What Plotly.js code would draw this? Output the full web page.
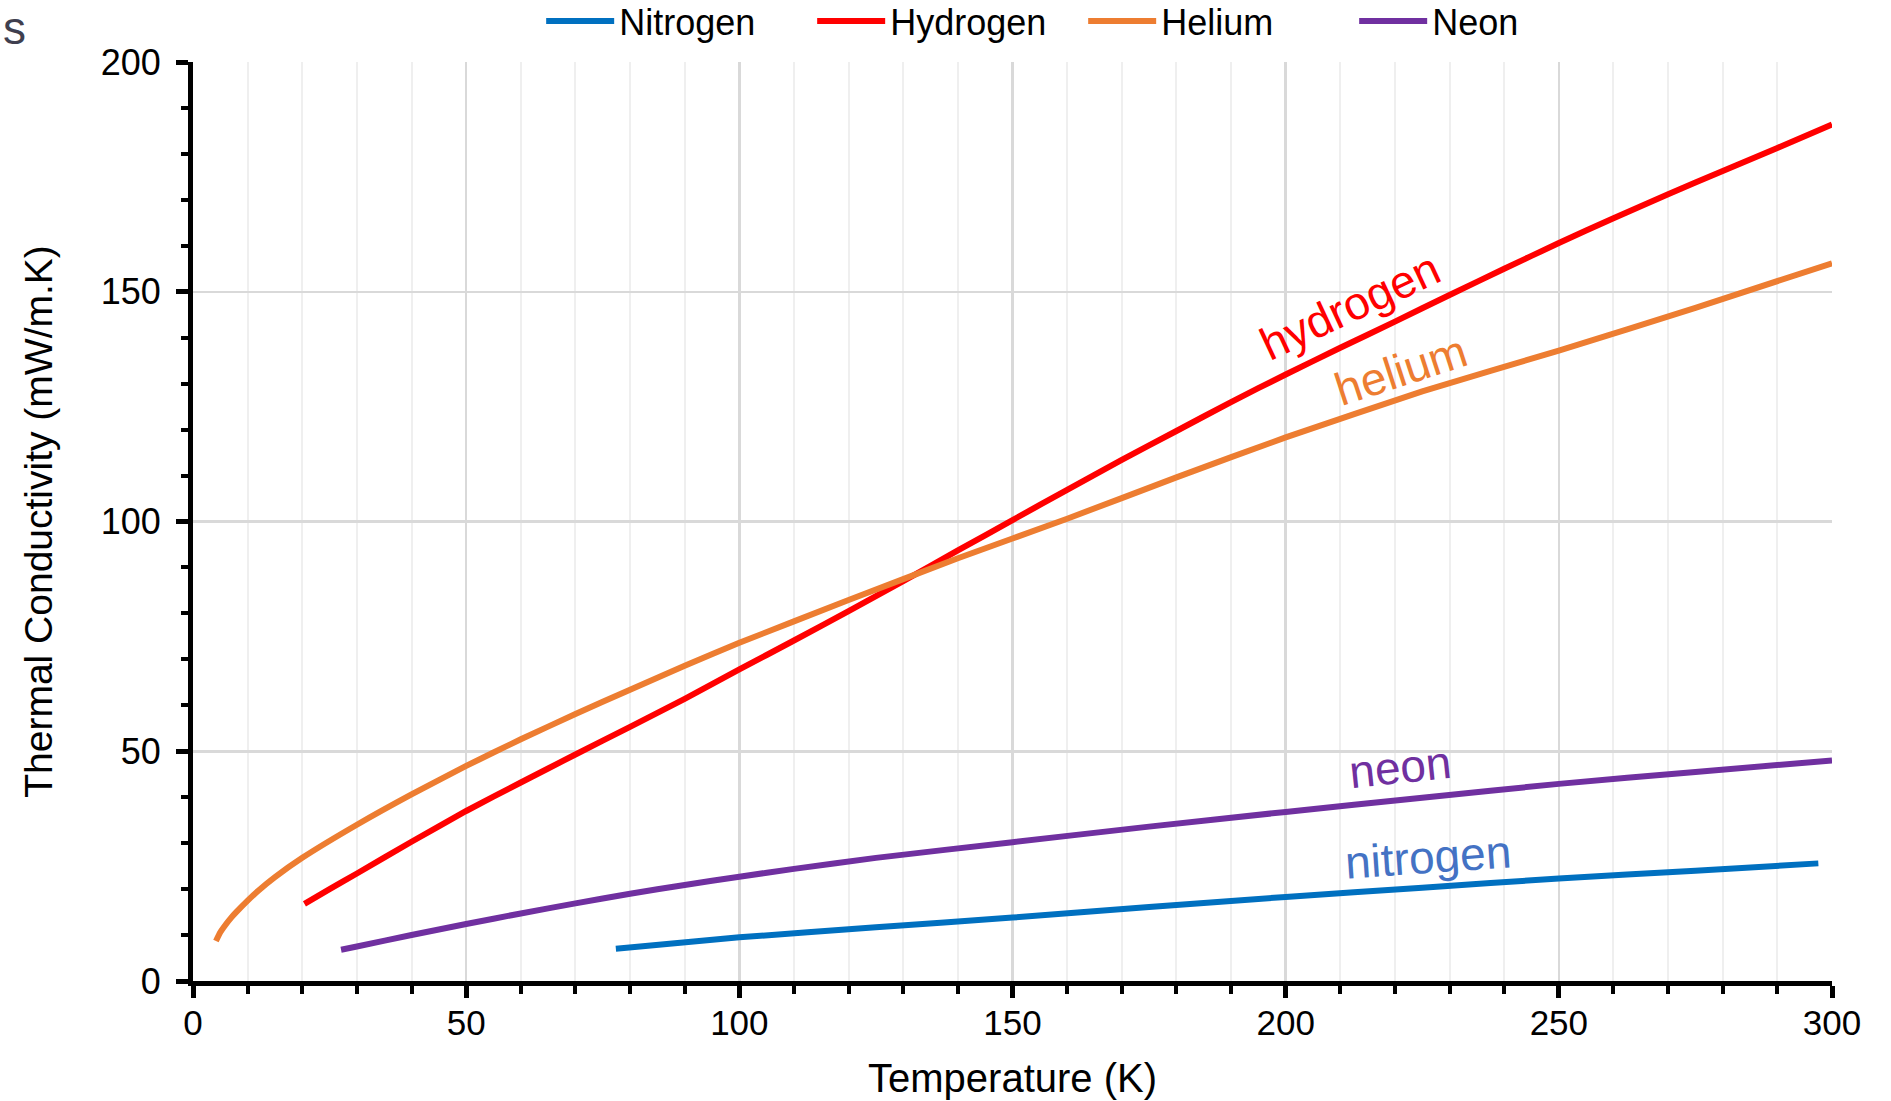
<!DOCTYPE html>
<html>
<head>
<meta charset="utf-8">
<script src="https://cdn.plot.ly/plotly-3.0.1.min.js"></script>
<style>
  html, body { margin: 0; padding: 0; background: #ffffff; }
  #chart { width: 1891px; height: 1101px; }
</style>
</head>
<body>
<div id="chart"></div>
<script>
// ---- Data ----
const seriesNames = ["Nitrogen", "Hydrogen", "Helium", "Neon"];
const seriesColors = ["#0070C0", "#FF0000", "#ED7D31", "#7030A0"];

const nitrogenT = [77.4, 100, 125, 150, 175, 200, 225, 250, 275, 297.5];
const nitrogenK = [7.0, 9.5, 11.7, 13.8, 16.1, 18.3, 20.3, 22.3, 24.0, 25.6];

const hydrogenT = [20.4, 25, 30, 40, 50, 60, 70, 80, 90, 100, 110, 120, 130, 140, 150, 160, 170, 180, 190, 200, 210, 220, 230, 240, 250, 260, 270, 280, 290, 300];
const hydrogenK = [16.8, 20.0, 23.4, 30.3, 37.0, 43.2, 49.3, 55.3, 61.4, 67.8, 74.1, 80.5, 87.0, 93.7, 100.3, 106.9, 113.4, 119.7, 126.0, 132.0, 137.8, 143.5, 149.3, 155.0, 160.6, 166.0, 171.2, 176.3, 181.3, 186.4];

const heliumT = [4.2, 5, 6, 7, 8, 10, 12, 15, 20, 30, 40, 50, 60, 70, 80, 90, 100, 120, 140, 160, 180, 200, 225, 250, 275, 300];
const heliumK = [8.7, 10.6, 12.3, 13.8, 15.1, 17.5, 19.7, 22.6, 26.8, 34.0, 40.6, 46.8, 52.6, 58.1, 63.4, 68.6, 73.6, 82.9, 92.0, 100.6, 109.6, 118.3, 128.3, 137.2, 146.5, 156.2];

const neonT = [27.1, 30, 40, 50, 60, 70, 80, 90, 100, 110, 125, 150, 175, 200, 225, 250, 275, 300];
const neonK = [6.8, 7.5, 10.0, 12.4, 14.7, 16.9, 19.0, 20.9, 22.7, 24.4, 26.8, 30.2, 33.6, 36.8, 39.9, 42.9, 45.5, 48.0];

// inline curve labels: text, position (data units), angle, colour
const labelTexts = ["hydrogen", "helium", "neon", "nitrogen"];
const labelT = [211.8, 221.1, 221, 226];
const labelK = [146.9, 133.0, 46.6, 27.0];
const labelAngles = [-25, -18, -6, -4];
const labelColors = ["#FF0000", "#ED7D31", "#7030A0", "#4472C4"];

const xTitle = "Temperature (K)";
const yTitle = "Thermal Conductivity (mW/m.K)";
const cornerText = "s";

// ---- Build figure ----
const FONT = "'Liberation Sans', Arial, sans-serif";
const xs = [nitrogenT, hydrogenT, heliumT, neonT];
const ys = [nitrogenK, hydrogenK, heliumK, neonK];

const traces = seriesNames.map((name, i) => ({
  type: "scatter",
  mode: "lines",
  name: name,
  x: xs[i],
  y: ys[i],
  line: { color: seriesColors[i], width: 6, shape: "spline", smoothing: 0.5 },
  hoverinfo: "x+y+name"
}));

const annotations = labelTexts.map((t, i) => ({
  text: t,
  x: labelT[i],
  y: labelK[i],
  xref: "x",
  yref: "y",
  showarrow: false,
  textangle: labelAngles[i],
  font: { family: FONT, size: 46, color: labelColors[i] },
  xanchor: "center",
  yanchor: "middle"
}));

// letter at the top-left corner of the reference
annotations.push({
  text: cornerText,
  xref: "paper",
  yref: "paper",
  x: (2 - 193) / 1639,
  y: (981 - 1) / 919,
  xanchor: "left",
  yanchor: "top",
  showarrow: false,
  borderpad: 0,
  font: { family: FONT, size: 46, color: "#3F3F4F" }
});

const layout = {
  width: 1891,
  height: 1101,
  paper_bgcolor: "#ffffff",
  plot_bgcolor: "#ffffff",
  margin: { l: 193, r: 59, t: 62, b: 120, pad: 0 },
  font: { family: FONT, color: "#000000" },
  showlegend: true,
  legend: {
    orientation: "h",
    xref: "container",
    yref: "container",
    x: 0.5728,
    xanchor: "center",
    y: 1 - 21 / 1101,
    yanchor: "middle",
    font: { family: FONT, size: 36, color: "#000000" },
    bgcolor: "rgba(0,0,0,0)",
    itemwidth: 68,
    entrywidth: 188,
    traceorder: "normal"
  },
  xaxis: {
    range: [0, 300],
    tick0: 0,
    dtick: 50,
    showline: true,
    linecolor: "#000000",
    linewidth: 5,
    ticks: "outside",
    ticklen: 12,
    tickwidth: 5,
    tickcolor: "#000000",
    tickfont: { family: FONT, size: 35, color: "#000000" },
    ticklabelstandoff: -5,
    showgrid: true,
    gridcolor: "#D9D9D9",
    gridwidth: 2.5,
    zeroline: false,
    minor: {
      dtick: 10,
      ticks: "outside",
      ticklen: 8,
      tickwidth: 4,
      tickcolor: "#000000",
      showgrid: true,
      gridcolor: "#EFEFEF",
      gridwidth: 2
    },
    title: { text: xTitle, font: { family: FONT, size: 40, color: "#000000" }, standoff: 24 },
    fixedrange: true
  },
  yaxis: {
    range: [0, 200],
    tick0: 0,
    dtick: 50,
    showline: true,
    linecolor: "#000000",
    linewidth: 5,
    ticks: "outside",
    ticklen: 12,
    tickwidth: 5,
    tickcolor: "#000000",
    tickfont: { family: FONT, size: 36, color: "#000000" },
    ticklabelstandoff: 8,
    showgrid: true,
    gridcolor: "#D9D9D9",
    gridwidth: 2.5,
    zeroline: false,
    minor: {
      dtick: 10,
      ticks: "outside",
      ticklen: 7,
      tickwidth: 4,
      tickcolor: "#000000",
      showgrid: false
    },
    title: { text: yTitle, font: { family: FONT, size: 39, color: "#000000" }, standoff: 38 },
    fixedrange: true
  },
  // overlay axes that draw the inner half of the crossing major ticks
  xaxis2: {
    overlaying: "x",
    anchor: "y",
    side: "bottom",
    range: [0, 300],
    tick0: 0,
    dtick: 50,
    ticks: "inside",
    ticklen: 12,
    tickwidth: 5,
    tickcolor: "#000000",
    showticklabels: false,
    showgrid: false,
    showline: false,
    zeroline: false,
    fixedrange: true
  },
  yaxis2: {
    overlaying: "y",
    anchor: "x",
    side: "left",
    range: [0, 200],
    tick0: 0,
    dtick: 50,
    ticks: "inside",
    ticklen: 12,
    tickwidth: 5,
    tickcolor: "#000000",
    showticklabels: false,
    showgrid: false,
    showline: false,
    zeroline: false,
    fixedrange: true
  },
  annotations: annotations
};

Plotly.newPlot("chart", traces, layout, { displayModeBar: false, responsive: false, staticPlot: true });
</script>
</body>
</html>
